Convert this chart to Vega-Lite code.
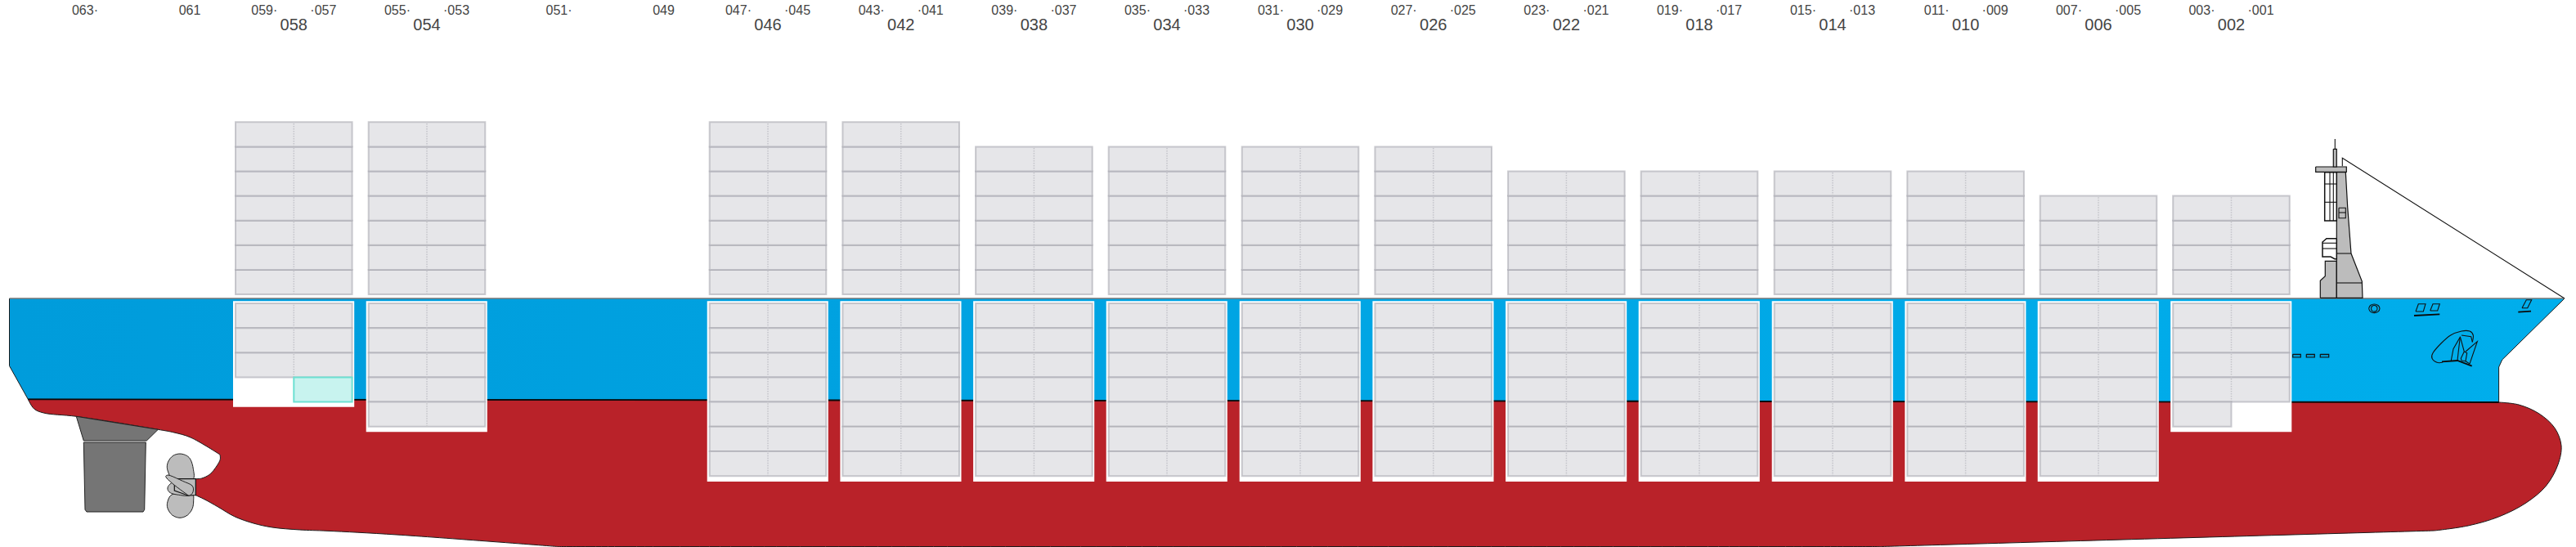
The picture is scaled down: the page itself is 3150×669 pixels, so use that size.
{
"$schema":"https://vega.github.io/schema/vega-lite/v6.json",
"width":3150,"height":669,"padding":0,"autosize":{"type":"none"},"background":"white",
"view":{"stroke":null},
"config":{"axis":{"disable":true},"legend":{"disable":true},"view":{"stroke":null}},
"datasets":{
"hull":[{"x":3.43,"y":18.07},{"x":3.43,"y":18.07},{"x":4.17,"y":16.9},{"x":5.33,"y":16.4},{"x":9.33,"y":15.97},{"x":19.33,"y":14.37},{"x":21.3,"y":14.0},{"x":23.3,"y":13.4},{"x":26.9,"y":11.3},{"x":26.9,"y":11.3},{"x":26.93,"y":10.73},{"x":26.5,"y":9.9},{"x":25.67,"y":8.9},{"x":24.67,"y":8.4},{"x":23.93,"y":8.33},{"x":23.93,"y":8.33},{"x":23.93,"y":6.33},{"x":23.93,"y":6.33},{"x":25,"y":5.83},{"x":26.67,"y":4.9},{"x":28.67,"y":3.73},{"x":31,"y":2.9},{"x":33.3,"y":2.4},{"x":36.67,"y":2.1},{"x":40,"y":1.97},{"x":48.5,"y":1.5},{"x":68.2,"y":0.05},{"x":68.2,"y":0.05},{"x":230,"y":0.05},{"x":230,"y":0.05},{"x":297.7,"y":2.0},{"x":297.7,"y":2.0},{"x":301.8,"y":2.6},{"x":305.56,"y":3.7},{"x":308.9,"y":5.4},{"x":311.36,"y":7.5},{"x":312.8,"y":10.1},{"x":313.2,"y":12.4},{"x":312.4,"y":14.55},{"x":310.5,"y":16.3},{"x":308,"y":17.4},{"x":305.56,"y":17.7},{"x":305.56,"y":17.7},{"x":3.43,"y":18.07},{"x":3.43,"y":18.07}],
"topside":[{"x":1.15,"y":30.4},{"x":1.15,"y":22.15},{"x":3.43,"y":18.07},{"x":305.56,"y":17.7},{"x":305.56,"y":22.0},{"x":305.97,"y":22.9},{"x":313.6,"y":30.4}],
"heavyLines":[{"p":"waterline","x":3.43,"y":18.07},{"p":"waterline","x":305.56,"y":17.7},
{"p":"boxline","x":295.2,"y":28.3},{"p":"boxline","x":298.33,"y":28.47},{"p":"chockline","x":307.93,"y":28.73},{"p":"chockline","x":309.5,"y":28.83},
{"p":"stem","x":298.6,"y":22.67},{"p":"stem","x":300.5,"y":22.8},{"p":"stem","x":302.27,"y":22.13}],
"deck":[{"x":1.15,"y":30.4},{"x":313.6,"y":30.4}],
"rudder":[{"p":"skeg","x":9.33,"y":15.97},{"p":"skeg","x":19.33,"y":14.37},{"p":"skeg","x":17.93,"y":13.0},{"p":"skeg","x":10.23,"y":13.0},{"p":"skeg","x":9.33,"y":15.97},
{"p":"blade","x":10.23,"y":12.8},{"p":"blade","x":17.83,"y":12.8},{"p":"blade","x":17.67,"y":4.57},{"p":"blade","x":17.5,"y":4.3},{"p":"blade","x":10.6,"y":4.3},{"p":"blade","x":10.4,"y":4.57},{"p":"blade","x":10.23,"y":12.8}],
"propBlades":[
{"p":"up","x":22,"y":11.4},{"p":"up","x":21.17,"y":11.17},{"p":"up","x":20.6,"y":10.5},{"p":"up","x":20.43,"y":9.73},{"p":"up","x":20.67,"y":8.9},{"p":"up","x":21,"y":8.33},{"p":"up","x":22.3,"y":8.1},{"p":"up","x":23.63,"y":8.33},{"p":"up","x":23.63,"y":9.57},{"p":"up","x":23.33,"y":10.63},{"p":"up","x":22.83,"y":11.17},
{"p":"low","x":21,"y":6.4},{"p":"low","x":20.5,"y":5.57},{"p":"low","x":20.5,"y":4.73},{"p":"low","x":21.07,"y":3.9},{"p":"low","x":22,"y":3.57},{"p":"low","x":22.93,"y":3.9},{"p":"low","x":23.53,"y":4.73},{"p":"low","x":23.67,"y":5.73},{"p":"low","x":23.53,"y":6.4},{"p":"low","x":22.3,"y":6.6},
{"p":"mid","x":21.33,"y":7.9},{"p":"mid","x":20.67,"y":7.57},{"p":"mid","x":20.5,"y":7.07},{"p":"mid","x":20.83,"y":6.63},{"p":"mid","x":21.67,"y":6.4},{"p":"mid","x":23.17,"y":6.3},{"p":"mid","x":22.5,"y":7.2}],
"propDiag":[{"p":"diag","x":20.33,"y":8.73},{"p":"diag","x":20.83,"y":8.73},{"p":"diag","x":22.33,"y":8.07},{"p":"diag","x":23.5,"y":7.5},{"p":"diag","x":23.6,"y":6.73},{"p":"diag","x":23.17,"y":6.3},{"p":"diag","x":22.67,"y":6.57},{"p":"diag","x":21.33,"y":7.57},{"p":"diag","x":20.4,"y":8.4}],
"greyParts":[
{"p":"hub","x":21.33,"y":8.33},{"p":"hub","x":23.93,"y":8.33},{"p":"hub","x":23.93,"y":6.33},{"p":"hub","x":23,"y":6.3},{"p":"hub","x":21.33,"y":6.9},{"p":"hub","x":21.33,"y":8.33},
{"p":"block","x":283.73,"y":30.47},{"p":"block","x":283.73,"y":32.57},{"p":"block","x":284.33,"y":33.13},{"p":"block","x":284.33,"y":34.97},{"p":"block","x":285.73,"y":34.97},{"p":"block","x":285.73,"y":30.47},{"p":"block","x":283.73,"y":30.47},
{"p":"tower","x":285.73,"y":30.47},{"p":"tower","x":285.73,"y":45.23},{"p":"tower","x":285.33,"y":45.83},{"p":"tower","x":286.83,"y":45.83},{"p":"tower","x":287.07,"y":41.57},{"p":"tower","x":287.5,"y":35.9},{"p":"tower","x":288.83,"y":32.5},{"p":"tower","x":288.9,"y":30.47},{"p":"tower","x":285.73,"y":30.47},
{"p":"bar","x":283.17,"y":46.5},{"p":"bar","x":286.93,"y":46.5},{"p":"bar","x":286.93,"y":45.87},{"p":"bar","x":283.17,"y":45.87},{"p":"bar","x":283.17,"y":46.5},
{"p":"mast","x":285.33,"y":48.67},{"p":"mast","x":285.73,"y":48.67},{"p":"mast","x":285.73,"y":46.5},{"p":"mast","x":285.33,"y":46.5},{"p":"mast","x":285.33,"y":48.67}],
"whiteParts":[
{"p":"ladder","x":284.27,"y":45.83},{"p":"ladder","x":285.73,"y":45.83},{"p":"ladder","x":285.73,"y":39.9},{"p":"ladder","x":284.27,"y":39.9},{"p":"ladder","x":284.27,"y":45.83},
{"p":"stair","x":285.73,"y":37.73},{"p":"stair","x":284.5,"y":37.73},{"p":"stair","x":284,"y":37.3},{"p":"stair","x":284,"y":35.5},{"p":"stair","x":285,"y":35.5},{"p":"stair","x":285.5,"y":35.23},{"p":"stair","x":285.73,"y":35.23},{"p":"stair","x":285.73,"y":37.73}],
"blueParts":[
{"p":"h1","x":280.37,"y":23.57},{"p":"h1","x":281.33,"y":23.57},{"p":"h1","x":281.33,"y":23.2},{"p":"h1","x":280.37,"y":23.2},{"p":"h1","x":280.37,"y":23.57},
{"p":"h2","x":282.03,"y":23.57},{"p":"h2","x":283.03,"y":23.57},{"p":"h2","x":283.03,"y":23.2},{"p":"h2","x":282.03,"y":23.2},{"p":"h2","x":282.03,"y":23.57},
{"p":"h3","x":283.73,"y":23.57},{"p":"h3","x":284.77,"y":23.57},{"p":"h3","x":284.77,"y":23.2},{"p":"h3","x":283.73,"y":23.2},{"p":"h3","x":283.73,"y":23.57}],
"thinCurves":[
{"p":"port","x":289.66,"y":29.17},{"p":"port","x":289.86,"y":29.55},{"p":"port","x":290.33,"y":29.7},{"p":"port","x":290.8,"y":29.55},{"p":"port","x":291,"y":29.17},{"p":"port","x":290.8,"y":28.79},{"p":"port","x":290.33,"y":28.64},{"p":"port","x":289.86,"y":28.79},{"p":"port","x":289.66,"y":29.17},
{"p":"port2","x":289.95,"y":29.17},{"p":"port2","x":290.05,"y":29.45},{"p":"port2","x":290.33,"y":29.55},{"p":"port2","x":290.6,"y":29.45},{"p":"port2","x":290.7,"y":29.17},{"p":"port2","x":290.6,"y":28.89},{"p":"port2","x":290.33,"y":28.79},{"p":"port2","x":290.05,"y":28.89},{"p":"port2","x":289.95,"y":29.17},
{"p":"a1","x":298.67,"y":22.57},{"p":"a1","x":298,"y":22.57},{"p":"a1","x":297.4,"y":23.07},{"p":"a1","x":297.5,"y":23.73},{"p":"a1","x":298.5,"y":24.9},{"p":"a1","x":299.67,"y":25.9},{"p":"a1","x":301,"y":26.4},{"p":"a1","x":302,"y":26.4},{"p":"a1","x":302.43,"y":25.9},{"p":"a1","x":302.33,"y":25.07}],
"thinLines":[
{"p":"stay","x":286.43,"y":46.57},{"p":"stay","x":286.43,"y":47.57},{"p":"stay","x":313.6,"y":30.4},
{"p":"ant","x":285.53,"y":49.9},{"p":"ant","x":285.53,"y":48.67},
{"p":"t1","x":285.73,"y":35.9},{"p":"t1","x":287.5,"y":35.9},{"p":"t2","x":285.73,"y":32.3},{"p":"t2","x":288.9,"y":32.3},
{"p":"l1","x":284.9,"y":45.83},{"p":"l1","x":284.9,"y":39.9},{"p":"l2","x":285.33,"y":45.83},{"p":"l2","x":285.33,"y":39.9},{"p":"l3","x":284.27,"y":44.4},{"p":"l3","x":285.73,"y":44.4},{"p":"l4","x":284.27,"y":42.17},{"p":"l4","x":285.73,"y":42.17},
{"p":"door","x":286,"y":41.47},{"p":"door","x":286.83,"y":41.47},{"p":"door","x":286.83,"y":40.23},{"p":"door","x":286,"y":40.23},{"p":"door","x":286,"y":41.47},{"p":"d2","x":286,"y":40.9},{"p":"d2","x":286.83,"y":40.9},
{"p":"s1","x":284,"y":37.17},{"p":"s1","x":285.73,"y":37.17},{"p":"s2","x":284,"y":36.5},{"p":"s2","x":285.73,"y":36.5},
{"p":"b1","x":295.4,"y":28.8},{"p":"b1","x":295.73,"y":29.73},{"p":"b1","x":296.6,"y":29.73},{"p":"b1","x":296.33,"y":28.8},{"p":"b1","x":295.4,"y":28.8},
{"p":"b2","x":297.17,"y":28.9},{"p":"b2","x":297.5,"y":29.73},{"p":"b2","x":298.33,"y":29.73},{"p":"b2","x":298.07,"y":28.9},{"p":"b2","x":297.17,"y":28.9},
{"p":"c1","x":308.4,"y":29.23},{"p":"c1","x":308.93,"y":30.23},{"p":"c1","x":309.57,"y":30.23},{"p":"c1","x":309.07,"y":29.23},{"p":"c1","x":308.4,"y":29.23},
{"p":"a2","x":299.73,"y":22.8},{"p":"a2","x":300,"y":24.23},{"p":"a2","x":300.83,"y":25.67},{"p":"a2","x":300.6,"y":23.73},{"p":"a2","x":300.5,"y":22.8},
{"p":"a3","x":300.83,"y":25.73},{"p":"a3","x":301.33,"y":23.9},{"p":"a3","x":300.93,"y":23.07},{"p":"a3","x":301,"y":22.8},{"p":"a3","x":301.5,"y":22.73},{"p":"a3","x":301.67,"y":23.73},{"p":"a3","x":301.33,"y":23.9},
{"p":"a4","x":301,"y":25.9},{"p":"a4","x":302.17,"y":25.73},{"p":"a4","x":302.33,"y":25.07},
{"p":"a5","x":301.5,"y":23.9},{"p":"a5","x":302.93,"y":25.13},{"p":"a5","x":302,"y":22.4},{"p":"a5","x":301.5,"y":22.73}],
"holds":[{"bay":"058","x0":28.5,"x1":43.32,"y0":17.12,"y1":30.07},{"bay":"054","x0":44.77,"x1":59.58,"y0":14.07,"y1":30.07},{"bay":"046","x0":86.47,"x1":101.28,"y0":8,"y1":30.07},{"bay":"042","x0":102.74,"x1":117.55,"y0":8,"y1":30.07},{"bay":"038","x0":119.01,"x1":133.82,"y0":8,"y1":30.07},{"bay":"034","x0":135.27,"x1":150.08,"y0":8,"y1":30.07},{"bay":"030","x0":151.57,"x1":166.38,"y0":8,"y1":30.07},{"bay":"026","x0":167.84,"x1":182.65,"y0":8,"y1":30.07},{"bay":"022","x0":184.11,"x1":198.92,"y0":8,"y1":30.07},{"bay":"018","x0":200.37,"x1":215.18,"y0":8,"y1":30.07},{"bay":"014","x0":216.67,"x1":231.48,"y0":8,"y1":30.07},{"bay":"010","x0":232.93,"x1":247.74,"y0":8,"y1":30.07},{"bay":"006","x0":249.17,"x1":263.98,"y0":8,"y1":30.07},{"bay":"002","x0":265.42,"x1":280.23,"y0":14.07,"y1":30.07}],
"bays":[{"bay":"058","x0":28.8,"xc":35.93,"x1":43.06},{"bay":"054","x0":45.07,"xc":52.2,"x1":59.33},{"bay":"046","x0":86.77,"xc":93.9,"x1":101.03},{"bay":"042","x0":103.04,"xc":110.17,"x1":117.3},{"bay":"038","x0":119.31,"xc":126.44,"x1":133.57},{"bay":"034","x0":135.57,"xc":142.7,"x1":149.83},{"bay":"030","x0":151.87,"xc":159,"x1":166.13},{"bay":"026","x0":168.14,"xc":175.27,"x1":182.4},{"bay":"022","x0":184.41,"xc":191.54,"x1":198.67},{"bay":"018","x0":200.67,"xc":207.8,"x1":214.93},{"bay":"014","x0":216.97,"xc":224.1,"x1":231.23},{"bay":"010","x0":233.23,"xc":240.36,"x1":247.49},{"bay":"006","x0":249.47,"xc":256.6,"x1":263.73},{"bay":"002","x0":265.72,"xc":272.85,"x1":279.98}],
"tiers":[{"tier":2,"y0":8.68,"y1":11.7},{"tier":4,"y0":11.7,"y1":14.72},{"tier":6,"y0":14.72,"y1":17.74},{"tier":8,"y0":17.74,"y1":20.75},{"tier":10,"y0":20.75,"y1":23.76},{"tier":12,"y0":23.76,"y1":26.77},{"tier":14,"y0":26.77,"y1":29.8},{"tier":82,"y0":30.9,"y1":33.91},{"tier":84,"y0":33.91,"y1":36.92},{"tier":86,"y0":36.92,"y1":39.93},{"tier":88,"y0":39.93,"y1":42.94},{"tier":90,"y0":42.94,"y1":45.95},{"tier":92,"y0":45.95,"y1":48.96},{"tier":94,"y0":48.96,"y1":51.97}],
"cells":[
{"bay":"058","tier":82},{"bay":"058","tier":84},{"bay":"058","tier":86},{"bay":"058","tier":88},{"bay":"058","tier":90},{"bay":"058","tier":92},{"bay":"058","tier":94},{"bay":"058","tier":14},{"bay":"058","tier":12},{"bay":"058","tier":10},
{"bay":"054","tier":82},{"bay":"054","tier":84},{"bay":"054","tier":86},{"bay":"054","tier":88},{"bay":"054","tier":90},{"bay":"054","tier":92},{"bay":"054","tier":94},{"bay":"054","tier":14},{"bay":"054","tier":12},{"bay":"054","tier":10},{"bay":"054","tier":8},{"bay":"054","tier":6},
{"bay":"046","tier":82},{"bay":"046","tier":84},{"bay":"046","tier":86},{"bay":"046","tier":88},{"bay":"046","tier":90},{"bay":"046","tier":92},{"bay":"046","tier":94},{"bay":"046","tier":14},{"bay":"046","tier":12},{"bay":"046","tier":10},{"bay":"046","tier":8},{"bay":"046","tier":6},{"bay":"046","tier":4},{"bay":"046","tier":2},
{"bay":"042","tier":82},{"bay":"042","tier":84},{"bay":"042","tier":86},{"bay":"042","tier":88},{"bay":"042","tier":90},{"bay":"042","tier":92},{"bay":"042","tier":94},{"bay":"042","tier":14},{"bay":"042","tier":12},{"bay":"042","tier":10},{"bay":"042","tier":8},{"bay":"042","tier":6},{"bay":"042","tier":4},{"bay":"042","tier":2},
{"bay":"038","tier":82},{"bay":"038","tier":84},{"bay":"038","tier":86},{"bay":"038","tier":88},{"bay":"038","tier":90},{"bay":"038","tier":92},{"bay":"038","tier":14},{"bay":"038","tier":12},{"bay":"038","tier":10},{"bay":"038","tier":8},{"bay":"038","tier":6},{"bay":"038","tier":4},{"bay":"038","tier":2},
{"bay":"034","tier":82},{"bay":"034","tier":84},{"bay":"034","tier":86},{"bay":"034","tier":88},{"bay":"034","tier":90},{"bay":"034","tier":92},{"bay":"034","tier":14},{"bay":"034","tier":12},{"bay":"034","tier":10},{"bay":"034","tier":8},{"bay":"034","tier":6},{"bay":"034","tier":4},{"bay":"034","tier":2},
{"bay":"030","tier":82},{"bay":"030","tier":84},{"bay":"030","tier":86},{"bay":"030","tier":88},{"bay":"030","tier":90},{"bay":"030","tier":92},{"bay":"030","tier":14},{"bay":"030","tier":12},{"bay":"030","tier":10},{"bay":"030","tier":8},{"bay":"030","tier":6},{"bay":"030","tier":4},{"bay":"030","tier":2},
{"bay":"026","tier":82},{"bay":"026","tier":84},{"bay":"026","tier":86},{"bay":"026","tier":88},{"bay":"026","tier":90},{"bay":"026","tier":92},{"bay":"026","tier":14},{"bay":"026","tier":12},{"bay":"026","tier":10},{"bay":"026","tier":8},{"bay":"026","tier":6},{"bay":"026","tier":4},{"bay":"026","tier":2},
{"bay":"022","tier":82},{"bay":"022","tier":84},{"bay":"022","tier":86},{"bay":"022","tier":88},{"bay":"022","tier":90},{"bay":"022","tier":14},{"bay":"022","tier":12},{"bay":"022","tier":10},{"bay":"022","tier":8},{"bay":"022","tier":6},{"bay":"022","tier":4},{"bay":"022","tier":2},
{"bay":"018","tier":82},{"bay":"018","tier":84},{"bay":"018","tier":86},{"bay":"018","tier":88},{"bay":"018","tier":90},{"bay":"018","tier":14},{"bay":"018","tier":12},{"bay":"018","tier":10},{"bay":"018","tier":8},{"bay":"018","tier":6},{"bay":"018","tier":4},{"bay":"018","tier":2},
{"bay":"014","tier":82},{"bay":"014","tier":84},{"bay":"014","tier":86},{"bay":"014","tier":88},{"bay":"014","tier":90},{"bay":"014","tier":14},{"bay":"014","tier":12},{"bay":"014","tier":10},{"bay":"014","tier":8},{"bay":"014","tier":6},{"bay":"014","tier":4},{"bay":"014","tier":2},
{"bay":"010","tier":82},{"bay":"010","tier":84},{"bay":"010","tier":86},{"bay":"010","tier":88},{"bay":"010","tier":90},{"bay":"010","tier":14},{"bay":"010","tier":12},{"bay":"010","tier":10},{"bay":"010","tier":8},{"bay":"010","tier":6},{"bay":"010","tier":4},{"bay":"010","tier":2},
{"bay":"006","tier":82},{"bay":"006","tier":84},{"bay":"006","tier":86},{"bay":"006","tier":88},{"bay":"006","tier":14},{"bay":"006","tier":12},{"bay":"006","tier":10},{"bay":"006","tier":8},{"bay":"006","tier":6},{"bay":"006","tier":4},{"bay":"006","tier":2},
{"bay":"002","tier":82},{"bay":"002","tier":84},{"bay":"002","tier":86},{"bay":"002","tier":88},{"bay":"002","tier":14},{"bay":"002","tier":12},{"bay":"002","tier":10},{"bay":"002","tier":8}],
"labelsEnd":[{"t":"063·","x":12},{"t":"059·","x":33.93},{"t":"055·","x":50.2},{"t":"051·","x":69.96},{"t":"047·","x":91.9},{"t":"043·","x":108.17},{"t":"039·","x":124.44},{"t":"035·","x":140.7},{"t":"031·","x":157},{"t":"027·","x":173.27},{"t":"023·","x":189.54},{"t":"019·","x":205.8},{"t":"015·","x":222.1},{"t":"011·","x":238.36},{"t":"007·","x":254.6},{"t":"003·","x":270.85}],
"labelsStart":[{"t":"·057","x":37.93},{"t":"·053","x":54.2},{"t":"·045","x":95.9},{"t":"·041","x":112.17},{"t":"·037","x":128.44},{"t":"·033","x":144.7},{"t":"·029","x":161},{"t":"·025","x":177.27},{"t":"·021","x":193.54},{"t":"·017","x":209.8},{"t":"·013","x":226.1},{"t":"·009","x":242.36},{"t":"·005","x":258.6},{"t":"·001","x":274.85}],
"labelsMid":[{"t":"061","x":23.2},{"t":"049","x":81.15}]
},
"layer":[
{"data":{"name":"hull"},"mark":{"type":"line","order":false,"interpolate":"catmull-rom","fill":"#b92229","stroke":"#1a1a1a","strokeWidth":1},
"encoding":{"x":{"field":"x","type":"quantitative","scale":{"domain":[0,315]}},"y":{"field":"y","type":"quantitative","scale":{"domain":[0,66.9]}}}},
{"data":{"name":"topside"},"mark":{"type":"line","order":false,"fill":{"gradient":"linear","x1":0,"y1":0,"x2":1,"y2":0,"stops":[{"offset":0,"color":"#009cdb"},{"offset":1,"color":"#00aeec"}]},"stroke":"#1a1a1a","strokeWidth":1},
"encoding":{"x":{"field":"x","type":"quantitative","scale":{"domain":[0,315]}},"y":{"field":"y","type":"quantitative","scale":{"domain":[0,66.9]}}}},
{"data":{"name":"deck"},"mark":{"type":"line","order":false,"stroke":"#777777","strokeWidth":1.5},
"encoding":{"x":{"field":"x","type":"quantitative","scale":{"domain":[0,315]}},"y":{"field":"y","type":"quantitative","scale":{"domain":[0,66.9]}}}},
{"data":{"name":"rudder"},"mark":{"type":"line","order":false,"fill":"#757575","stroke":"#222222","strokeWidth":1},
"encoding":{"detail":{"field":"p"},"x":{"field":"x","type":"quantitative","scale":{"domain":[0,315]}},"y":{"field":"y","type":"quantitative","scale":{"domain":[0,66.9]}}}},
{"data":{"name":"propBlades"},"mark":{"type":"line","order":false,"interpolate":"cardinal-closed","fill":"#bcbcbc","stroke":"#222222","strokeWidth":1},
"encoding":{"detail":{"field":"p"},"x":{"field":"x","type":"quantitative","scale":{"domain":[0,315]}},"y":{"field":"y","type":"quantitative","scale":{"domain":[0,66.9]}}}},
{"data":{"name":"greyParts"},"mark":{"type":"line","order":false,"fill":"#bcbcbc","stroke":"#111111","strokeWidth":1.2},
"encoding":{"detail":{"field":"p"},"x":{"field":"x","type":"quantitative","scale":{"domain":[0,315]}},"y":{"field":"y","type":"quantitative","scale":{"domain":[0,66.9]}}}},
{"data":{"name":"propDiag"},"mark":{"type":"line","order":false,"interpolate":"cardinal-closed","fill":"#bcbcbc","stroke":"#222222","strokeWidth":1},
"encoding":{"detail":{"field":"p"},"x":{"field":"x","type":"quantitative","scale":{"domain":[0,315]}},"y":{"field":"y","type":"quantitative","scale":{"domain":[0,66.9]}}}},
{"data":{"name":"whiteParts"},"mark":{"type":"line","order":false,"fill":"#ffffff","stroke":"#111111","strokeWidth":1.5},
"encoding":{"detail":{"field":"p"},"x":{"field":"x","type":"quantitative","scale":{"domain":[0,315]}},"y":{"field":"y","type":"quantitative","scale":{"domain":[0,66.9]}}}},
{"data":{"name":"blueParts"},"mark":{"type":"line","order":false,"fill":"#0098cf","stroke":"#111111","strokeWidth":1.2},
"encoding":{"detail":{"field":"p"},"x":{"field":"x","type":"quantitative","scale":{"domain":[0,315]}},"y":{"field":"y","type":"quantitative","scale":{"domain":[0,66.9]}}}},
{"data":{"name":"thinLines"},"mark":{"type":"line","order":false,"stroke":"#111111","strokeWidth":1.1},
"encoding":{"detail":{"field":"p"},"x":{"field":"x","type":"quantitative","scale":{"domain":[0,315]}},"y":{"field":"y","type":"quantitative","scale":{"domain":[0,66.9]}}}},
{"data":{"name":"thinCurves"},"mark":{"type":"line","order":false,"interpolate":"cardinal","stroke":"#111111","strokeWidth":1.1},
"encoding":{"detail":{"field":"p"},"x":{"field":"x","type":"quantitative","scale":{"domain":[0,315]}},"y":{"field":"y","type":"quantitative","scale":{"domain":[0,66.9]}}}},
{"data":{"name":"heavyLines"},"mark":{"type":"line","order":false,"stroke":"#0a0a0a","strokeWidth":1.8},
"encoding":{"detail":{"field":"p"},"x":{"field":"x","type":"quantitative","scale":{"domain":[0,315]}},"y":{"field":"y","type":"quantitative","scale":{"domain":[0,66.9]}}}},
{"data":{"name":"holds"},"mark":{"type":"rect","fill":"#ffffff"},
"encoding":{"x":{"field":"x0","type":"quantitative","scale":{"domain":[0,315]}},"x2":{"field":"x1"},"y":{"field":"y0","type":"quantitative","scale":{"domain":[0,66.9]}},"y2":{"field":"y1"}}},
{"data":{"name":"cells"},"transform":[{"lookup":"bay","from":{"data":{"name":"bays"},"key":"bay","fields":["x0","xc","x1"]}},{"lookup":"tier","from":{"data":{"name":"tiers"},"key":"tier","fields":["y0","y1"]}}],
"mark":{"type":"rect","fill":"#e6e6e9","stroke":"#9a99a3","strokeOpacity":0.5,"strokeWidth":2},
"encoding":{"x":{"field":"x0","type":"quantitative","scale":{"domain":[0,315]}},"x2":{"field":"x1"},"y":{"field":"y0","type":"quantitative","scale":{"domain":[0,66.9]}},"y2":{"field":"y1"}}},
{"data":{"name":"cells"},"transform":[{"lookup":"bay","from":{"data":{"name":"bays"},"key":"bay","fields":["x0","xc","x1"]}},{"lookup":"tier","from":{"data":{"name":"tiers"},"key":"tier","fields":["y0","y1"]}}],
"mark":{"type":"rule","stroke":"#c4c4ca","strokeWidth":1.5,"strokeDash":[1.5,1.5]},
"encoding":{"x":{"field":"xc","type":"quantitative","scale":{"domain":[0,315]}},"y":{"field":"y0","type":"quantitative","scale":{"domain":[0,66.9]}},"y2":{"field":"y1"}}},
{"data":{"values":[{"bay":"002","tier":6,"x0":265.72,"x1":272.85}]},"transform":[{"lookup":"tier","from":{"data":{"name":"tiers"},"key":"tier","fields":["y0","y1"]}}],
"mark":{"type":"rect","fill":"#e6e6e9","stroke":"#9a99a3","strokeOpacity":0.5,"strokeWidth":2},
"encoding":{"x":{"field":"x0","type":"quantitative","scale":{"domain":[0,315]}},"x2":{"field":"x1"},"y":{"field":"y0","type":"quantitative","scale":{"domain":[0,66.9]}},"y2":{"field":"y1"}}},
{"data":{"values":[{"bay":"058","tier":8,"x0":35.93,"x1":43.06}]},"transform":[{"lookup":"tier","from":{"data":{"name":"tiers"},"key":"tier","fields":["y0","y1"]}}],
"mark":{"type":"rect","fill":"#c8f3ef","stroke":"#6de0d2","strokeWidth":2},
"encoding":{"x":{"field":"x0","type":"quantitative","scale":{"domain":[0,315]}},"x2":{"field":"x1"},"y":{"field":"y0","type":"quantitative","scale":{"domain":[0,66.9]}},"y2":{"field":"y1"}}},
{"data":{"name":"labelsEnd"},"mark":{"type":"text","align":"right","baseline":"middle","font":"Liberation Sans","fontSize":16,"color":"#444444","y":13},
"encoding":{"x":{"field":"x","type":"quantitative","scale":{"domain":[0,315]}},"text":{"field":"t"}}},
{"data":{"name":"labelsStart"},"mark":{"type":"text","align":"left","baseline":"middle","font":"Liberation Sans","fontSize":16,"color":"#444444","y":13},
"encoding":{"x":{"field":"x","type":"quantitative","scale":{"domain":[0,315]}},"text":{"field":"t"}}},
{"data":{"name":"labelsMid"},"mark":{"type":"text","align":"center","baseline":"middle","font":"Liberation Sans","fontSize":16,"color":"#444444","y":13},
"encoding":{"x":{"field":"x","type":"quantitative","scale":{"domain":[0,315]}},"text":{"field":"t"}}},
{"data":{"name":"bays"},"mark":{"type":"text","align":"center","baseline":"middle","font":"Liberation Sans","fontSize":20,"color":"#444444","y":31},
"encoding":{"x":{"field":"xc","type":"quantitative","scale":{"domain":[0,315]}},"text":{"field":"bay"}}}
]
}
